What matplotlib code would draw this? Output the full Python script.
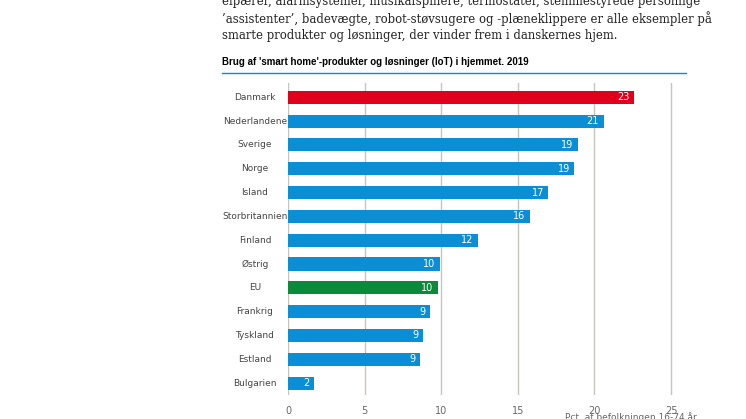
import matplotlib
matplotlib.use("Agg")
import matplotlib.pyplot as plt
from matplotlib.transforms import blended_transform_factory

lande = ["Danmark", "Nederlandene", "Sverige", "Norge", "Island", "Storbritannien",
         "Finland", "Østrig", "EU", "Frankrig", "Tyskland", "Estland", "Bulgarien"]
vaerdier = [22.6, 20.6, 18.9, 18.7, 17.0, 15.8, 12.4, 9.9, 9.8, 9.3, 8.8, 8.6, 1.7]
etiketter = ["23", "21", "19", "19", "17", "16", "12", "10", "10", "9", "9", "9", "2"]

blaa = "#0a8fd6"
farver = ["#e0001b" if l == "Danmark" else "#0b8a3a" if l == "EU" else blaa for l in lande]

fig = plt.figure(figsize=(7.46, 4.19), dpi=100)
ax = fig.add_axes([288 / 746, 1 - 395 / 419, (671 - 288) / 746 * 1.05, (395 - 83) / 419])

y = list(range(len(lande)))
ax.barh(y, vaerdier, height=0.55, color=farver, zorder=3)
for yi, v, t in zip(y, vaerdier, etiketter):
    ax.text(v - 0.3, yi, t, ha="right", va="center", color="white", fontsize=7, zorder=4)

# landenavne centreret til venstre for akserne
trans = blended_transform_factory(fig.transFigure, ax.transData)
for yi, l in zip(y, lande):
    fig.text(255 / 746, yi, l, transform=trans, ha="center", va="center",
             fontsize=6.5, color="#444444")

ax.set_yticks([])
ax.set_ylim(len(lande) - 0.5, -0.6)
ax.set_xlim(0, 25 * 1.05)
ax.set_xticks([0, 5, 10, 15, 20, 25])
ax.tick_params(axis="x", labelsize=7, colors="#666666", length=0, pad=8)
ax.grid(axis="x", color="#c8c5bd", linewidth=1, zorder=0)
for s in ax.spines.values():
    s.set_visible(False)

# brødtekst over figuren
tekst = ("elpærer, alarmsystemer, musikafspillere, termostater, stemmestyrede personlige\n"
         "’assistenter’, badevægte, robot-støvsugere og -plæneklippere er alle eksempler på\n"
         "smarte produkter og løsninger, der vinder frem i danskernes hjem.")
fig.text(222 / 746, 1 + 5 / 419, tekst, fontsize=8.4, family="DejaVu Serif",
         va="top", ha="left", color="#222222", linespacing=1.3)
fig.text(222 / 746, 1 - 62 / 419, "Brug af 'smart home'-produkter og løsninger (IoT) i hjemmet. 2019",
         fontsize=7, weight="bold", va="center", ha="left", family="Liberation Sans")
fig.add_artist(plt.Line2D([222 / 746, 686 / 746], [1 - 73 / 419] * 2, color=blaa, linewidth=1))
fig.text(565 / 746, 2 / 419, "Pct. af befolkningen 16-74 år", fontsize=6.5, color="#666666",
         va="center", ha="left")

fig.savefig("out.png", dpi=100)
